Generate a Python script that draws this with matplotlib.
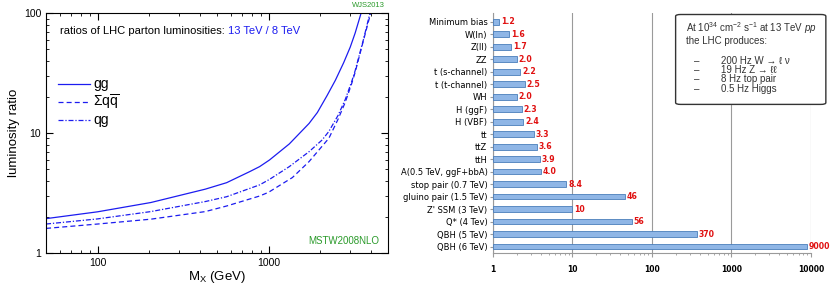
import matplotlib
matplotlib.use("Agg")
import matplotlib.pyplot as plt
import numpy as np
from matplotlib.patches import FancyBboxPatch

plt.rcParams['font.family'] = ['Liberation Sans', 'DejaVu Sans']
plt.rcParams['mathtext.fontset'] = 'custom'
plt.rcParams['mathtext.rm'] = 'Liberation Sans'
plt.rcParams['mathtext.it'] = 'Liberation Sans:italic'

# left panel: luminosity ratios 13 TeV / 8 TeV
mx_gg = [50, 100, 205, 427, 569, 776, 887, 1013, 1323, 1726, 1930, 2200, 2460, 2750, 3006, 3210, 3480]
ratio_gg = [1.93, 2.2, 2.63, 3.4, 3.85, 4.76, 5.24, 5.95, 8.1, 12.0, 14.8, 20.5, 27.5, 38.5, 52, 68, 100]
mx_qg = [50, 100, 205, 427, 569, 887, 1013, 1323, 1726, 2060, 2254, 2550, 2810, 3070, 3210, 3590, 3920]
ratio_qg = [1.74, 1.92, 2.21, 2.68, 2.94, 3.69, 4.1, 5.24, 6.98, 8.75, 10.3, 14.0, 19, 27, 33, 60, 100]
mx_qq = [50, 100, 205, 427, 569, 887, 1000, 1380, 1726, 2254, 2550, 2810, 3070, 3210, 3590, 3960]
ratio_qq = [1.6, 1.74, 1.91, 2.21, 2.46, 2.98, 3.2, 4.25, 5.77, 9.03, 13.0, 18, 26, 32, 59, 100]

# right panel: cross-section ratios
processes = ["Minimum bias", "W(ln)", "Z(ll)", "ZZ", "t (s-channel)", "t (t-channel)",
             "WH", "H (ggF)", "H (VBF)", "tt", "ttZ", "ttH", "A(0.5 TeV, ggF+bbA)",
             "stop pair (0.7 TeV)", "gluino pair (1.5 TeV)", "Z' SSM (3 TeV)",
             "Q* (4 Tev)", "QBH (5 TeV)", "QBH (6 TeV)"]
xs_ratio = [1.2, 1.6, 1.7, 2.0, 2.2, 2.5, 2.0, 2.3, 2.4, 3.3, 3.6, 3.9, 4.0,
            8.4, 46, 10, 56, 370, 9000]
xs_labels = ["1.2", "1.6", "1.7", "2.0", "2.2", "2.5", "2.0", "2.3", "2.4", "3.3",
             "3.6", "3.9", "4.0", "8.4", "46", "10", "56", "370", "9000"]

fig = plt.figure(figsize=(8.3, 2.9), dpi=100)

# ---- left panel ----
ax = fig.add_axes([0.0555, 0.128, 0.412, 0.827])
blue = '#1c1cf0'
ax.plot(mx_gg, ratio_gg, color=blue, lw=0.9, label='gg')
ax.plot(mx_qq, ratio_qq, color=blue, lw=0.9, ls=(0, (4, 2.5)), label=r'$\Sigma\mathrm{q}\overline{\mathrm{q}}$')
ax.plot(mx_qg, ratio_qg, color=blue, lw=0.9, ls=(0, (4, 1.5, 1, 1.5)), label='qg')
ax.set_xscale('log')
ax.set_yscale('log')
ax.set_xlim(50, 5000)
ax.set_ylim(1, 100)
ax.set_xticks([100, 1000])
ax.set_xticklabels(['100', '1000'])
ax.set_yticks([1, 10, 100])
ax.set_yticklabels(['1', '10', '100'])
ax.tick_params(which='both', direction='in', top=True, right=True, labelsize=7.5)
ax.tick_params(which='major', length=5)
ax.tick_params(which='minor', length=2.5)
ax.set_xlabel(r'M$_\mathrm{X}$ (GeV)', fontsize=9.5, labelpad=1)
ax.set_ylabel('luminosity ratio', fontsize=9.5, labelpad=3)
ax.legend(loc='upper left', bbox_to_anchor=(0.02, 0.755), frameon=False, fontsize=10,
          handlelength=2.3, handletextpad=0.2, labelspacing=0.1, borderaxespad=0)
t1 = ax.text(0.04, 0.925, 'ratios of LHC parton luminosities: ', transform=ax.transAxes,
             fontsize=8, va='center')
ax.annotate('13 TeV / 8 TeV', xy=(1, 0), xycoords=t1, va='bottom', fontsize=8, color=blue)
ax.text(0.99, 1.015, 'WJS2013', transform=ax.transAxes, ha='right', va='bottom',
        fontsize=5.5, color='#2a9a2a')
ax.text(0.975, 0.05, 'MSTW2008NLO', transform=ax.transAxes, ha='right', va='center',
        fontsize=7, color='#2a9a2a')

# ---- right panel ----
bx = fig.add_axes([0.594, 0.128, 0.383, 0.827])
ypos = list(range(len(processes)))
bx.barh(ypos, np.array(xs_ratio) - 1, height=0.45, left=1, color='#8fb6e6',
        edgecolor='#4a7ebb', lw=0.6, zorder=3)
for y, v, s in zip(ypos, xs_ratio, xs_labels):
    bx.annotate(s, xy=(v, y), xytext=(1.2, 0), textcoords='offset points', va='center',
                fontsize=5.6, color='#e01010', fontweight='bold', family='DejaVu Sans')
bx.set_xscale('log')
bx.set_xlim(1, 10000)
bx.set_ylim(18.5, -0.7)
bx.set_yticks(ypos)
bx.set_yticklabels(processes, fontsize=6, family='DejaVu Sans')
bx.set_xticks([1, 10, 100, 1000, 10000])
bx.set_xticklabels(['1', '10', '100', '1000', '10000'], fontsize=5.5, fontweight='bold',
                   family='DejaVu Sans')
bx.xaxis.grid(True, which='major', color='#9a9a9a', lw=0.8, zorder=0)
for side in ['top', 'right']:
    bx.spines[side].set_visible(False)
bx.spines['left'].set_color('#9a9a9a')
bx.spines['bottom'].set_color('#9a9a9a')
bx.tick_params(axis='y', length=2, color='#9a9a9a', pad=2)
bx.tick_params(axis='x', which='major', length=3, color='#9a9a9a', pad=6)
bx.tick_params(axis='x', which='minor', length=1.5, color='#9a9a9a')

# info box
box = FancyBboxPatch((0.814, 0.64), 0.181, 0.31, boxstyle='round,pad=0,rounding_size=0.006',
                     transform=fig.transFigure, facecolor='white', edgecolor='#333333',
                     lw=1.0, zorder=10)
fig.patches.append(box)
tc = '#333333'
fig.text(0.826, 0.903, r'At 10$^{34}$ cm$^{-2}$ s$^{-1}$ at 13 TeV $pp$', fontsize=7,
         va='center', color=tc, zorder=11)
fig.text(0.826, 0.857, 'the LHC produces:', fontsize=7, va='center', color=tc, zorder=11)
items = ['200 Hz W \u2192 \u2113 \u03bd', '19 Hz Z \u2192 \u2113\u2113', '8 Hz top pair', '0.5 Hz Higgs']
for i, s in enumerate(items):
    yy = 0.79 - i * 0.032
    fig.text(0.836, yy, '\u2013', fontsize=7, va='center', color=tc, zorder=11)
    fig.text(0.869, yy, s, fontsize=7, va='center', color=tc, zorder=11,
             family=['Liberation Sans', 'DejaVu Sans'])

fig.savefig('out.png', dpi=100)
